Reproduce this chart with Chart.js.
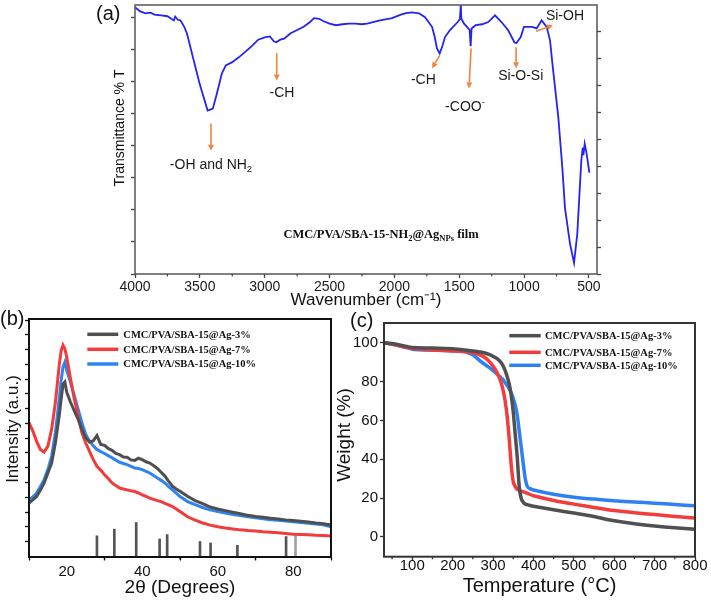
<!DOCTYPE html>
<html><head><meta charset="utf-8">
<script src="https://cdn.jsdelivr.net/npm/chart.js@4.4.1/dist/chart.umd.min.js"></script>
<style>
html,body{margin:0;padding:0;background:#fff;}
body{width:711px;height:605px;position:relative;overflow:hidden;font-family:"Liberation Sans",Arial,sans-serif;}
canvas{position:absolute;}
.lbl{position:absolute;font-size:20px;color:#111;line-height:20px;font-family:"Liberation Sans",Arial,sans-serif;}
</style></head><body>
<canvas id="ca" width="711" height="312" style="left:0;top:0"></canvas>
<canvas id="cb" width="334" height="293" style="left:0;top:312px"></canvas>
<canvas id="cc" width="379" height="293" style="left:332px;top:312px"></canvas>
<div class="lbl" style="left:96px;top:3px">(a)</div>
<div class="lbl" style="left:0px;top:308px">(b)</div>
<div class="lbl" style="left:350px;top:310px">(c)</div>
<script>
// ---------- (a) FTIR ----------
const ftirWavenumber = [4000,3960,3920,3880,3850,3800,3750,3720,3700,3690,3670,3650,3620,3600,3550,3500,3470,3440,3420,3400,3370,3330,3300,3250,3200,3150,3100,3050,3000,2960,2930,2910,2880,2850,2800,2750,2700,2650,2620,2580,2550,2500,2450,2400,2350,2300,2250,2211,2111,2018,1950,1911,1864,1810,1764,1710,1690,1672,1651,1630,1610,1571,1512,1495,1488,1484,1463,1440,1420,1412,1405,1373,1324,1276,1224,1175,1124,1075,1060,1026,1001,939,903,865,826,800,782,764,736,705,685,646,615,590,559,548,543,533,518,497];
const ftirTransmittance = [8.31,8.18,8.12,8.14,8.08,8.06,8.03,7.95,7.9,8.02,7.92,7.9,7.7,7.5,6.7,5.9,5.5,5.09,5.12,5.15,5.6,6.25,6.5,6.6,6.75,6.92,7.1,7.3,7.37,7.4,7.25,7.22,7.3,7.33,7.5,7.6,7.7,7.85,7.97,7.95,7.88,7.8,7.75,7.78,7.8,7.8,7.78,7.8,7.9,7.97,8.08,8.13,8.15,8.12,8.0,7.7,7.4,7.03,6.87,7.1,7.38,7.6,7.85,7.94,8.4,7.95,7.8,7.7,7.6,7.1,7.65,7.75,7.78,7.85,8.06,7.85,7.6,7.22,7.19,7.38,7.7,7.7,7.65,7.9,7.7,7.28,6.56,5.9,4.87,3.3,2.06,0.94,0.35,1.25,3.53,3.94,3.7,4.06,3.75,3.16];
const ftirXTicks = [4000,3500,3000,2500,2000,1500,1000,500];
const ftirXMinor = [3750,3250,2750,2250,1750,1250,750];
const ftirYTicksLeft = [0,1,2,3,4,5,6,7,8];
const ftirYTicksRight = [0,1,2,3,4,5,6,7,8,9];
// annotation labels [text parts, wavenumber, value]
const ftirLabels = [
  {parts:[{t:'-OH and NH'},{t:'2',sub:true}], x:3414, y:3.44},
  {parts:[{t:'-CH'}], x:2867, y:5.66},
  {parts:[{t:'-CH'}], x:1777, y:6.09},
  {parts:[{t:'-COO'},{t:'-',sup:true}], x:1456, y:5.25},
  {parts:[{t:'Si-O-Si'}], x:1026, y:6.19},
  {parts:[{t:'Si-OH'}], x:685, y:8.06}
];
// arrows [fromWavenumber, fromValue, toWavenumber, toValue]
const ftirArrows = [
  [3414,4.69,3414,3.84],
  [2907,6.88,2907,6.03],
  [1650,6.81,1710,6.41],
  [1409,7.03,1425,5.78],
  [1062,7.06,1062,6.41],
  [908,7.56,777,7.75]
];
const ftirSample = {parts:[{t:'CMC/PVA/SBA-15-NH'},{t:'2',sub:true},{t:'@Ag'},{t:'NPs',sub:true},{t:' film'}], x:2103, y:1.25};

// ---------- (b) XRD ----------
const xrdAngle = [10,11,12,13,14,15,16,17,18,18.5,19,19.5,20,21,22,23,24,25,26,27,28,29,30,31,32,33,34,35,36,37,38,39,40,41,42,43,44,45,46,47,48,49,50,52,54,56,58,60,62,64,66,68,70,72,74,76,78,80,82,84,86,88,90];
const xrdAg3 = [22.6,24.0,25.4,28.0,31.0,35.3,39.5,48.0,59.3,66,72.5,73.5,69.2,65.0,61.4,57.9,53.7,50.1,48.3,48.8,51.0,47.3,46.9,45.6,44.8,43.5,43.0,42.0,41.9,40.8,40.6,41.5,40.9,40.0,39.5,38.4,37.2,35.6,34.0,31.8,29.8,28.6,27.6,25.5,23.7,22.4,21.0,20.2,19.5,18.8,18.2,17.5,17.0,16.7,16.3,16.0,15.6,15.3,15.0,14.7,14.3,14.0,13.4];
const xrdAg7 = [56.5,53.0,48.7,45.2,44.1,46.6,53.7,65.0,80.5,86.5,89.0,87.5,84.0,74.9,66.4,59.3,52.3,48.0,44.5,41.0,38.1,36.5,34.6,33.0,31.1,30.0,29.0,28.6,28.2,27.8,27.5,26.9,26.1,25.5,24.7,24.2,23.7,23.3,22.5,21.9,21.2,20.2,19.1,16.9,15.5,14.3,13.4,12.7,12.2,11.8,11.4,11.1,10.9,10.6,10.4,10.2,9.9,9.6,9.5,9.3,9.1,9.0,8.8];
const xrdAg10 = [24.0,25.3,26.8,29.5,32.5,36.7,42.4,52.3,66.4,74,79.8,81.9,78.4,73.4,67.8,62.1,56.5,51.6,48.7,46.8,45.2,44.3,43.5,42.6,41.7,40.7,39.8,39.3,38.8,38.1,37.4,37.2,36.7,36.0,35.3,34.2,33.2,32.2,31.1,29.6,28.2,26.8,25.4,23.3,22.0,20.8,19.8,19.1,18.5,17.9,17.4,16.9,16.5,16.1,15.7,15.4,15.1,14.8,14.5,14.2,13.9,13.5,12.7];
const refAngle = [28.0,32.6,38.4,44.6,46.6,55.3,58.1,65.2,78.1,80.6];
const refIntensity = [8.9,11.7,14.5,7.6,9.4,6.5,5.9,4.9,8.6,8.9];
const xrdXTicks = [20,40,60,80];
const xrdXMinor = [30,50,70];
const xrdYTicks = [6.5,12.7,18.9,25.1,31.3,37.5,43.7,49.9,56.1,62.3,68.5,74.7,80.9,87.1,93.3,99.5];

// ---------- (c) TGA ----------
const tgaTemp = [30,50,80,100,150,200,230,250,270,280,290,300,310,320,325,330,335,340,345,350,355,360,365,370,375,380,385,390,400,450,500,550,600,650,700,750,800];
const tgaAg3 = [100,99.6,98.4,97.5,97.3,96.9,96.3,95.8,95.2,94.7,94.0,93.0,91.8,89.8,88.0,85.6,82.5,78.8,72.9,64.4,52.5,40.7,25.4,19.5,17.8,16.9,16.6,16.3,15.8,14.0,12.3,10.5,8.3,6.8,5.6,4.7,3.9];
const tgaAg7 = [100,99.2,97.8,97.0,96.3,95.8,95.5,94.9,93.5,92.4,90.5,88.0,84.5,79.5,75.5,70.0,62.0,50.5,37.0,28.5,25.8,24.6,24.0,23.6,23.2,22.9,22.5,22.0,21.2,18.8,16.9,15.2,13.6,12.5,11.5,10.5,9.7];
const tgaAg10 = [100,99.3,97.8,96.7,96.2,95.9,95.4,93.8,90.3,88.8,87.3,85.8,83.8,82.0,81.0,79.4,78.0,76.3,74.2,71.3,67.8,62.7,54.2,45.8,37.3,29.7,25.9,25.0,24.2,22.0,20.5,19.5,18.6,18.0,17.4,16.7,16.0];
const tgaXTicks = [100,200,300,400,500,600,700,800];
const tgaXMinor = [50,150,250,350,450,550,650,750];
const tgaYTicks = [0,20,40,60,80,100];

const seriesNames = ['CMC/PVA/SBA-15@Ag-3%','CMC/PVA/SBA-15@Ag-7%','CMC/PVA/SBA-15@Ag-10%'];

// ---------- helpers ----------
const SANS = '"Liberation Sans", Arial, sans-serif';
const SERIF = '"Liberation Serif", "Times New Roman", serif';
function pts(xs, ys){ return xs.map((v,i)=>({x:v, y:ys[i]})); }
function fixedTicks(list){ return function(s){ s.ticks = list.map(v=>({value:v})); }; }
const plain = v => String(v);

function drawRich(ctx, parts, cx, cy, size, weight, family, color){
  const fontFor = p => `${weight} ${(p.sub||p.sup)? size*0.68 : size}px ${family}`;
  let total = 0;
  parts.forEach(p=>{ ctx.font = fontFor(p); p._w = ctx.measureText(p.t).width; total += p._w; });
  let x = cx - total/2;
  const base = cy + size*0.36;
  ctx.fillStyle = color; ctx.textAlign='left'; ctx.textBaseline='alphabetic';
  parts.forEach(p=>{
    ctx.font = fontFor(p);
    let yb = base;
    if (p.sub) yb = base + size*0.25;
    if (p.sup) yb = base - size*0.42;
    ctx.fillText(p.t, x, yb);
    x += p._w;
  });
}

const framePlugin = {id:'frame', afterDraw(chart, args, o){
  const {ctx, chartArea:c} = chart; ctx.save(); ctx.strokeStyle=o.color; ctx.lineWidth=o.width;
  ctx.strokeRect(c.left, c.top, c.right-c.left, c.bottom-c.top); ctx.restore(); }};

const minorPlugin = {id:'minor', afterDraw(chart, args, o){
  const s = chart.scales.x, ctx = chart.ctx; ctx.save(); ctx.strokeStyle=o.color; ctx.lineWidth=o.width;
  (o.values||[]).forEach(v=>{ const p = s.getPixelForValue(v); ctx.beginPath(); ctx.moveTo(p, s.top); ctx.lineTo(p, s.top+o.len); ctx.stroke(); });
  ctx.restore(); }};

const yTitlePlugin = {id:'ytitle', afterDraw(chart, args, o){
  const ctx = chart.ctx; ctx.save(); ctx.translate(o.x, o.y); ctx.rotate(-Math.PI/2);
  ctx.font = o.font; ctx.fillStyle = o.color; ctx.textAlign='center'; ctx.textBaseline='middle';
  ctx.fillText(o.text, 0, 0); ctx.restore(); }};

const legendPlugin = {id:'legbox', afterDraw(chart, args, o){
  const {ctx, chartArea:c} = chart; ctx.save();
  chart.data.datasets.filter(d=>d.inLegend).forEach((d,i)=>{
    const y = c.top + o.rows[i];
    ctx.strokeStyle = d.borderColor; ctx.lineWidth = o.lineWidth; ctx.lineCap='butt';
    ctx.beginPath(); ctx.moveTo(c.left+o.x1, y); ctx.lineTo(c.left+o.x2, y); ctx.stroke();
    ctx.fillStyle = '#111'; ctx.font = o.font; ctx.textBaseline='middle'; ctx.textAlign='left';
    ctx.fillText(d.label, c.left+o.tx, y+0.5);
  });
  ctx.restore(); }};

const annoPlugin = {id:'anno', afterDatasetsDraw(chart, args, o){
  const {ctx} = chart, x = chart.scales.x, y = chart.scales.y;
  ctx.save();
  o.arrows.forEach(a=>{
    const x1=x.getPixelForValue(a[0]), y1=y.getPixelForValue(a[1]), x2=x.getPixelForValue(a[2]), y2=y.getPixelForValue(a[3]);
    const ang = Math.atan2(y2-y1, x2-x1), hl=6, hw=3;
    const bx = x2-hl*Math.cos(ang), by = y2-hl*Math.sin(ang);
    ctx.strokeStyle=o.arrowColor; ctx.fillStyle=o.arrowColor; ctx.lineWidth=1.6;
    ctx.beginPath(); ctx.moveTo(x1,y1); ctx.lineTo(bx,by); ctx.stroke();
    ctx.beginPath(); ctx.moveTo(x2,y2);
    ctx.lineTo(bx+hw*Math.sin(ang), by-hw*Math.cos(ang));
    ctx.lineTo(bx-hw*Math.sin(ang), by+hw*Math.cos(ang)); ctx.closePath(); ctx.fill();
  });
  o.labels.forEach(l=> drawRich(ctx, l.parts, x.getPixelForValue(l.x), y.getPixelForValue(l.y), 14, 'normal', SANS, '#1a1a1a'));
  drawRich(ctx, o.sample.parts, x.getPixelForValue(o.sample.x), y.getPixelForValue(o.sample.y), 12.5, 'bold', SERIF, '#111');
  ctx.restore(); }};

function tickGrid(len, color){ return {drawOnChartArea:false, drawTicks:true, tickLength:len, tickColor:color, tickWidth:1.3, color:color}; }

// ---------- chart (a) ----------
new Chart(document.getElementById('ca'), {
  type:'line',
  data:{datasets:[{data:pts(ftirWavenumber, ftirTransmittance), borderColor:'#2424f2', borderWidth:1.8, pointRadius:0, tension:0, fill:false}]},
  options:{
    responsive:false, animation:false, devicePixelRatio:1,
    layout:{padding:{top:5, left:0, right:108, bottom:0}},
    plugins:{legend:{display:false}, tooltip:{enabled:false},
      frame:{color:'#555', width:1.5},
      minor:{values:ftirXMinor, len:2.5, color:'#444', width:1.2},
      ytitle:{text:'Transmittance % T', x:120, y:128, font:`14px ${SANS}`, color:'#111'},
      anno:{arrows:ftirArrows, labels:ftirLabels, sample:ftirSample, arrowColor:'#f0843e'}},
    scales:{
      x:{type:'linear', reverse:true, min:438, max:4000, offset:false, afterBuildTicks:fixedTicks(ftirXTicks),
         afterFit:s=>{s.height=38;}, border:{display:false}, grid:tickGrid(4,'#444'),
         ticks:{font:{family:SANS, size:14}, color:'#1a1a1a', padding:1, maxRotation:0, autoSkip:false, callback:plain},
         title:{display:true, text:'Wavenumber (cm⁻¹)', font:{family:SANS, size:17}, color:'#111', padding:{top:0,bottom:1}}},
      y:{type:'linear', min:0, max:8.38, afterBuildTicks:fixedTicks(ftirYTicksLeft), afterFit:s=>{s.width=135;},
         border:{display:false}, grid:tickGrid(4,'#444'), ticks:{display:false}},
      y2:{type:'linear', position:'right', min:0, max:10, afterBuildTicks:fixedTicks(ftirYTicksRight), afterFit:s=>{s.width=6;},
         border:{display:false}, grid:tickGrid(4,'#444'), ticks:{display:false}}
    }
  },
  plugins:[framePlugin, minorPlugin, yTitlePlugin, annoPlugin]
});

// ---------- chart (b) ----------
const colGray='#4f4f4f', colRed='#f23b3b', colBlue='#2e84f0';
new Chart(document.getElementById('cb'), {
  type:'line',
  data:{datasets:[
    {label:seriesNames[0], inLegend:true, data:pts(xrdAngle, xrdAg3), borderColor:colGray, borderWidth:3, pointRadius:0, tension:0},
    {label:seriesNames[1], inLegend:true, data:pts(xrdAngle, xrdAg7), borderColor:colRed, borderWidth:3, pointRadius:0, tension:0},
    {label:seriesNames[2], inLegend:true, data:pts(xrdAngle, xrdAg10), borderColor:colBlue, borderWidth:3, pointRadius:0, tension:0},
    {type:'bar', label:'ref', data:pts(refAngle, refIntensity), backgroundColor:refAngle.map((v,i)=> i===refAngle.length-1 ? '#a0a0a0' : '#555'), barThickness:2, borderWidth:0}
  ]},
  options:{
    responsive:false, animation:false, devicePixelRatio:1,
    layout:{padding:{top:7, left:0, right:3, bottom:0}},
    plugins:{legend:{display:false}, tooltip:{enabled:false},
      frame:{color:'#111', width:2},
      minor:{values:xrdXMinor, len:2.5, color:'#111', width:1.3},
      ytitle:{text:'Intensity (a.u.)', x:13, y:117, font:`17px ${SANS}`, color:'#111'},
      legbox:{rows:[15.3,30.3,45], x1:58.3, x2:89.3, tx:94.3, lineWidth:3.5, font:`bold 10.5px ${SERIF}`}},
    scales:{
      x:{type:'linear', min:10, max:90, offset:false, afterBuildTicks:fixedTicks(xrdXTicks), afterFit:s=>{s.height=48;},
         border:{display:false}, grid:tickGrid(3.5,'#111'),
         ticks:{font:{family:SANS, size:15}, color:'#111', padding:2, maxRotation:0, autoSkip:false, callback:plain},
         title:{display:true, text:'2θ (Degrees)', font:{family:SANS, size:19}, color:'#111', padding:{top:0,bottom:5.6}}},
      y:{type:'linear', min:0, max:100, afterBuildTicks:fixedTicks(xrdYTicks), afterFit:s=>{s.width=29;},
         border:{display:false}, grid:tickGrid(4,'#111'), ticks:{display:false}}
    }
  },
  plugins:[framePlugin, minorPlugin, yTitlePlugin, legendPlugin]
});

// ---------- chart (c) ----------
new Chart(document.getElementById('cc'), {
  type:'line',
  data:{datasets:[
    {label:seriesNames[0], inLegend:true, data:pts(tgaTemp, tgaAg3), borderColor:'#505050', borderWidth:3.5, pointRadius:0, tension:0.2},
    {label:seriesNames[1], inLegend:true, data:pts(tgaTemp, tgaAg7), borderColor:'#f53c3c', borderWidth:3.5, pointRadius:0, tension:0.2},
    {label:seriesNames[2], inLegend:true, data:pts(tgaTemp, tgaAg10), borderColor:'#2f80f2', borderWidth:3.5, pointRadius:0, tension:0.2}
  ]},
  options:{
    responsive:false, animation:false, devicePixelRatio:1,
    layout:{padding:{top:8, left:0, right:16, bottom:0}},
    plugins:{legend:{display:false}, tooltip:{enabled:false},
      frame:{color:'#333', width:2},
      minor:{values:tgaXMinor, len:2.5, color:'#333', width:1.3},
      ytitle:{text:'Weight (%)', x:13, y:123, font:`19px ${SANS}`, color:'#111'},
      legbox:{rows:[12.7,29.3,42.3], x1:125.3, x2:156.7, tx:161, lineWidth:3.5, font:`bold 10.5px ${SERIF}`}},
    scales:{
      x:{type:'linear', min:30, max:800, offset:false, afterBuildTicks:fixedTicks(tgaXTicks), afterFit:s=>{s.height=48.3;},
         border:{display:false}, grid:tickGrid(4,'#333'),
         ticks:{font:{family:SANS, size:15}, color:'#111', padding:-4, maxRotation:0, autoSkip:false, callback:plain},
         title:{display:true, text:'Temperature (°C)', font:{family:SANS, size:20}, color:'#111', padding:{top:0,bottom:6.3}}},
      y:{type:'linear', min:-10.17, max:110.17, afterBuildTicks:fixedTicks(tgaYTicks), afterFit:s=>{s.width=52;},
         border:{display:false}, grid:tickGrid(4,'#333'),
         ticks:{font:{family:SANS, size:15}, color:'#111', padding:2, callback:plain}}
    }
  },
  plugins:[framePlugin, minorPlugin, yTitlePlugin, legendPlugin]
});
</script>
</body></html>
